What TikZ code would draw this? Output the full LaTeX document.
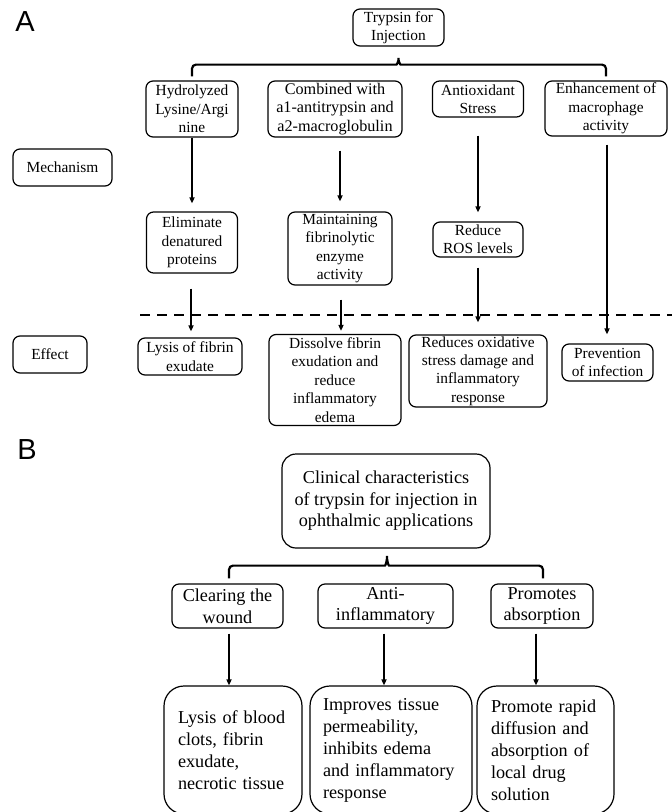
\documentclass[tikz,border=0pt]{standalone}
\usepackage{fontspec}
\setmainfont{Liberation Serif}
\newfontfamily\labfont{Liberation Sans}
\usetikzlibrary{arrows.meta,calc}
\begin{document}
\begin{tikzpicture}[x=1pt,y=-1pt,
  sz/.style 2 args={minimum width=#1pt,minimum height=#2pt},
  box/.style={draw,line width=1.2pt,rounded corners=7pt,align=center,inner sep=0pt,fill=white,
    font=\fontsize{15.4}{18.4}\selectfont},
  bbox/.style={draw,line width=1.2pt,rounded corners=7pt,align=center,inner sep=0pt,fill=white,
    font=\fontsize{18.2}{21.6}\selectfont},
  lbox/.style={draw,line width=1.2pt,rounded corners=20pt,align=left,inner sep=0pt,fill=white,
    font=\fontsize{18.2}{22}\selectfont},
  arr/.style={line width=1.8pt,-{Triangle[length=6pt,width=5pt]}},
  brk/.style={line width=2.2pt,rounded corners=4pt},
  dashline/.style={line width=1.8pt,dash pattern=on 10pt off 7pt},
  panel/.style={font=\labfont\fontsize{29}{29}\selectfont,inner sep=0pt}]
\useasboundingbox (0,0) rectangle (672,812);

% ---------- Panel A ----------
\node[panel] (labA) at (25,22) {A};
\node[box,sz={91}{37}] (trypsin) at (398.5,27.5) {Trypsin for\\Injection};
\node[box,sz={92}{56}] (hydro) at (192,109) {Hydrolyzed\\Lysine/Argi\\nine};
\node[box,sz={134}{56},font=\fontsize{16.2}{18.4}\selectfont] (comb) at (335,109) {Combined with\\a1-antitrypsin and\\a2-macroglobulin};
\node[box,sz={91}{36}] (antiox) at (478,99) {Antioxidant\\Stress};
\node[box,sz={122}{55}] (enh) at (606,108.5) {Enhancement of\\macrophage\\activity};

\node[box,sz={99}{37}] (mech) at (62.5,167.5) {Mechanism};
\node[box,sz={91}{61}] (elim) at (192,242.5) {Eliminate\\denatured\\proteins};
\node[box,sz={104}{73}] (maint) at (340,248.5) {Maintaining\\fibrinolytic\\enzyme\\activity};
\node[box,sz={90}{35}] (ros) at (478,239.5) {Reduce\\ROS levels};

\node[box,sz={74}{37}] (effect) at (50,354.5) {Effect};
\node[box,sz={104}{37}] (lysis) at (190,356.5) {Lysis of fibrin\\exudate};
\node[box,sz={132}{91}] (diss) at (335,380) {Dissolve fibrin\\exudation and\\reduce\\inflammatory\\edema};
\node[box,sz={138}{72}] (red) at (478,371) {Reduces oxidative\\stress damage and\\inflammatory\\response};
\node[box,sz={91}{37}] (prev) at (607.5,362.5) {Prevention\\of infection};

% bracket A
\coordinate (aL) at ($(hydro.north)+(0,-4)$);
\coordinate (aR) at ($(enh.north)+(0,-4)$);
\coordinate (aT) at ($(trypsin.south)+(0,9)$);
\draw[brk] (aL) |- ($(aT)+(-6,9)$)
  .. controls ($(aT)+(-1.5,9)$) and ($(aT)+(0,5)$) .. (aT)
  .. controls ($(aT)+(0,5)$) and ($(aT)+(1.5,9)$) .. ($(aT)+(6,9)$) -| (aR);

% arrows A
\draw[arr,shorten >=8pt] (hydro.south) -- (elim.north);
\draw[arr,shorten <=13pt,shorten >=10pt] (maint.north |- comb.south) -- (maint.north);
\draw[arr,shorten <=18pt,shorten >=9pt] (antiox.south) -- (ros.north);
\draw[arr,shorten <=8pt,shorten >=9pt] ([xshift=1pt]enh.south) -- ([xshift=1pt]enh.south |- prev.north);
\draw[arr,shorten <=15pt,shorten >=6pt] ([xshift=-1pt]elim.south) -- ([xshift=-1pt]elim.south |- lysis.north);
\draw[arr,shorten <=14pt,shorten >=3pt] ([xshift=1pt]maint.south) -- ([xshift=1pt]maint.south |- diss.north);
\draw[arr,shorten <=10pt,shorten >=12pt] (ros.south) -- (red.north);

% dashed separator
\coordinate (dl) at (140,315);
\coordinate (dr) at (672,315);
\draw[dashline] (dl) -- (dr);

% ---------- Panel B ----------
\node[panel] (labB) at (27,450) {B};
\node[bbox,sz={208}{94},rounded corners=14pt] (clin) at (386,501)
  {Clinical characteristics\\of trypsin for injection in\\ophthalmic applications};
\node[bbox,sz={111}{44}] (clear) at (227.5,606) {Clearing the\\wound};
\node[bbox,sz={135}{44}] (anti) at (385.5,606) {Anti-\\inflammatory};
\node[bbox,sz={102}{44}] (prom) at (542,606) {Promotes\\absorption};

\node[lbox,sz={138}{128},text width=110pt] (lb) at (233,750)
  {Lysis of blood\\clots, fibrin\\exudate,\\necrotic tissue};
\node[lbox,sz={162}{128},text width=136pt] (imp) at (391,750)
  {Improves tissue\\permeability,\\inhibits edema\\and inflammatory\\response};
\node[lbox,sz={137}{128},text width=109pt] (pr) at (545.5,750)
  {Promote rapid\\diffusion and\\absorption of\\local drug\\solution};

% bracket B
\coordinate (bL) at ($(clear.north)+(1.5,-5)$);
\coordinate (bR) at ($(prom.north)+(1,-5)$);
\coordinate (bT) at ($(clin.south)+(1,5)$);
\draw[brk] (bL) |- ($(bT)+(-6,12)$)
  .. controls ($(bT)+(-1.5,12)$) and ($(bT)+(0,7)$) .. (bT)
  .. controls ($(bT)+(0,7)$) and ($(bT)+(1.5,12)$) .. ($(bT)+(6,12)$) -| (bR);

% arrows B
\draw[arr,shorten <=5pt] ([xshift=1.5pt]clear.south) -- ([xshift=1.5pt]clear.south |- lb.north);
\draw[arr,shorten <=5pt] ([xshift=-1.5pt]anti.south) -- ([xshift=-1.5pt]anti.south |- imp.north);
\draw[arr,shorten <=5pt] ([xshift=-6pt]prom.south) -- ([xshift=-6pt]prom.south |- pr.north);
\end{tikzpicture}
\end{document}
